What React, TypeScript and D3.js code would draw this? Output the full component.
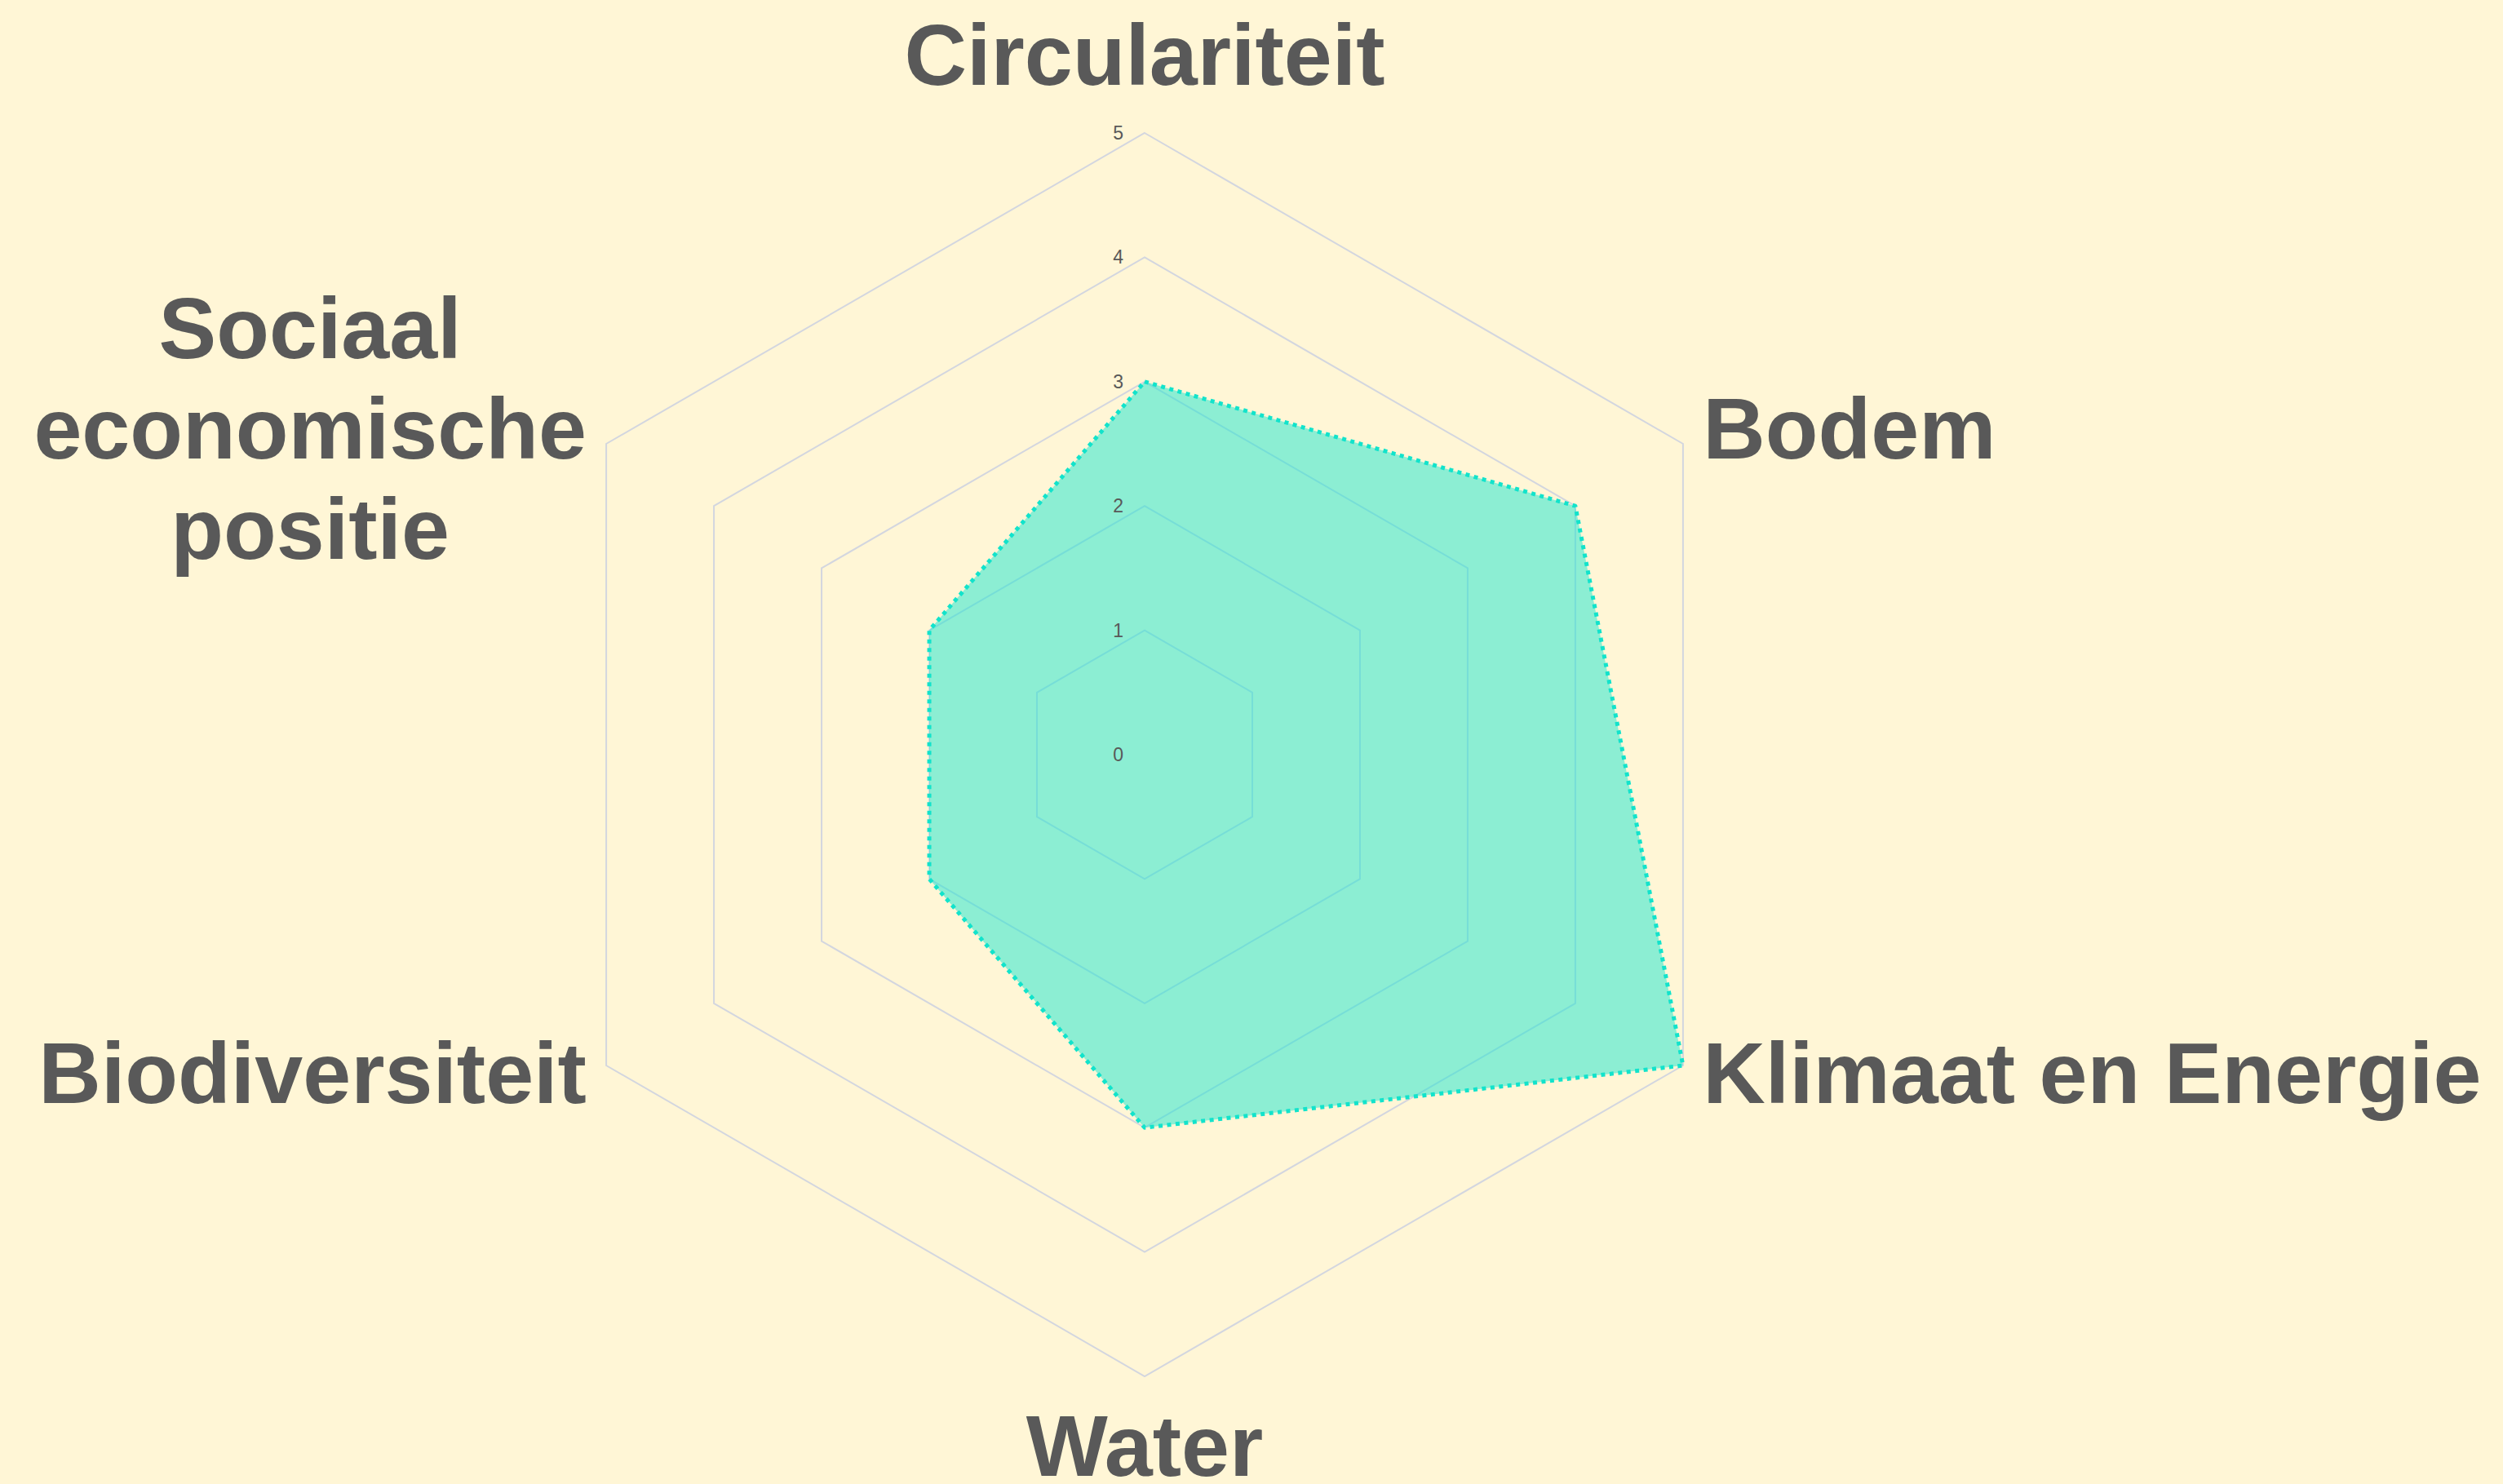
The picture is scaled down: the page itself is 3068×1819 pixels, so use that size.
import React, { useEffect, useRef } from 'react';
import * as d3 from 'd3';

// axes, clockwise from the top
const categories = [
  'Circulariteit',
  'Bodem',
  'Klimaat en Energie',
  'Water',
  'Biodiversiteit',
  'Sociaal\neconomische\npositie',
];
const scores = [3, 4, 5, 3, 2, 2];
const radialTicks = [0, 1, 2, 3, 4, 5];

const W = 3068;
const H = 1819;

const App: React.FC = () => {
  const svgRef = useRef<SVGSVGElement>(null);

  useEffect(() => {
    if (!svgRef.current) return;
    const svg = d3.select(svgRef.current);
    svg.selectAll('*').remove();

    const cx = 1403;
    const cy = 925;
    const R = 762;
    const labelFont = 106;
    const lineH = 123;
    const pad = 28;
    const textColor = '#595959';

    svg.append('rect').attr('width', W).attr('height', H).attr('fill', '#fff6d6');

    const r = d3.scaleLinear().domain([0, 5]).range([0, R]);
    const step = (2 * Math.PI) / categories.length;
    const angle = (i: number) => i * step;

    const g = svg.append('g').attr('transform', `translate(${cx},${cy})`);

    // hexagonal grid
    const ring = d3
      .lineRadial<number>()
      .angle((_, i) => angle(i))
      .curve(d3.curveLinearClosed);

    radialTicks
      .filter((t) => t > 0)
      .forEach((t) => {
        g.append('path')
          .attr('d', ring.radius(() => r(t))(categories.map(() => t)))
          .attr('fill', 'none')
          .attr('stroke', '#d3d6df')
          .attr('stroke-width', 2);
      });

    // data polygon
    const shape = d3
      .lineRadial<number>()
      .angle((_, i) => angle(i))
      .radius((d) => r(d))
      .curve(d3.curveLinearClosed);

    g.append('path')
      .datum(scores)
      .attr('d', shape)
      .attr('fill', '#19e6d0')
      .attr('fill-opacity', 0.5)
      .attr('stroke', 'none');

    g.append('path')
      .datum(scores)
      .attr('d', shape)
      .attr('fill', 'none')
      .attr('stroke', '#12e3cb')
      .attr('stroke-width', 5)
      .attr('stroke-dasharray', '5 5.5')
      .attr('stroke-linejoin', 'round');

    // radial tick labels
    g.selectAll('.rtick')
      .data(radialTicks)
      .enter()
      .append('text')
      .attr('class', 'rtick')
      .attr('x', -26)
      .attr('y', (d) => -r(d))
      .attr('dy', '0.35em')
      .attr('text-anchor', 'end')
      .attr('font-family', 'Liberation Sans, Arial, sans-serif')
      .attr('font-size', 23)
      .attr('fill', textColor)
      .text((d) => d);

    // category labels
    categories.forEach((cat, i) => {
      const a = angle(i);
      const s = Math.sin(a);
      const c = -Math.cos(a);
      const ax = (R + pad) * s;
      const ay = (R + pad) * c;
      const lines = cat.split('\n');
      const anchor = Math.abs(s) < 0.1 ? 'middle' : s > 0 ? 'start' : 'end';
      let base = 0.3 * labelFont;
      if (c < -0.9) base = -0.29 * labelFont;
      if (c > 0.9) base = 0.89 * labelFont;

      const lg = g.append('g');
      const texts = lines.map((ln, k) =>
        lg
          .append('text')
          .attr('y', ay + base + (k - (lines.length - 1) / 2) * lineH)
          .attr('font-family', 'Liberation Sans, Arial, sans-serif')
          .attr('font-weight', 'bold')
          .attr('font-size', labelFont)
          .attr('fill', textColor)
          .text(ln)
      );
      const widths = texts.map((t) => (t.node() as SVGTextElement).getComputedTextLength());
      const maxW = d3.max(widths) || 0;
      let mid = ax;
      if (anchor === 'start') mid = ax + maxW / 2;
      if (anchor === 'end') mid = ax - maxW / 2;
      texts.forEach((t) => t.attr('x', mid).attr('text-anchor', 'middle'));
    });
  }, []);

  return (
    <div style={{ position: 'fixed', left: 0, top: 0, width: W, height: H }}>
      <svg ref={svgRef} width={W} height={H} style={{ display: 'block' }}></svg>
    </div>
  );
};

export default App;
